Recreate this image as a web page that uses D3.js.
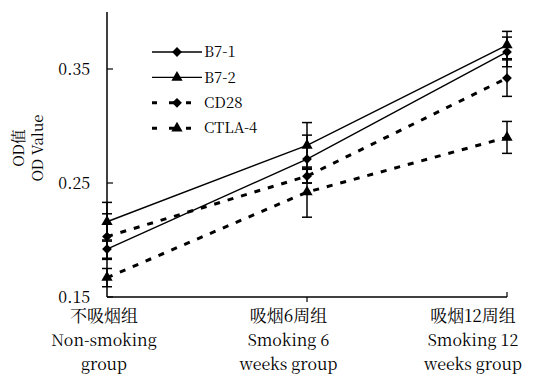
<!DOCTYPE html>
<html>
<head>
<meta charset="utf-8">
<script src="https://cdn.jsdelivr.net/npm/d3@7"></script>
<style>
  body { margin: 0; background: #fff; }
</style>
</head>
<body>
<div id="chart"></div>
<script>
// data
const groups = ["non", "w6", "w12"];
const groupLabels = [
    ["不吸烟组", "Non-smoking", "group"],
    ["吸烟6周组", "Smoking 6", "weeks group"],
    ["吸烟12周组", "Smoking 12", "weeks group"]
];
const seriesNames = ["B7-1", "B7-2", "CD28", "CTLA-4"];
const b71 = [0.192, 0.271, 0.365];
const b72 = [0.216, 0.283, 0.371];
const cd28 = [0.203, 0.256, 0.342];
const ctla4 = [0.167, 0.242, 0.290];
const b71Err = [0.008, 0.021, 0.013];
const b72Err = [0.017, 0.020, 0.012];
const cd28Err = [0.020, 0.006, 0.016];
const ctla4Err = [0.008, 0.022, 0.014];
const yTicks = [0.15, 0.25, 0.35];

const series = [
    {name: seriesNames[0], values: b71, err: b71Err, dashed: false, marker: "diamond"},
    {name: seriesNames[1], values: b72, err: b72Err, dashed: false, marker: "triangle"},
    {name: seriesNames[2], values: cd28, err: cd28Err, dashed: true, marker: "diamond"},
    {name: seriesNames[3], values: ctla4, err: ctla4Err, dashed: true, marker: "triangle"}
];

const width = 539, height = 377;
const margin = {top: 12, right: 31, bottom: 80, left: 107};
const innerW = width - margin.left - margin.right;
const innerH = height - margin.top - margin.bottom;
const fontFam = '"Noto Serif CJK SC", serif';

const svg = d3.select("#chart").append("svg")
    .attr("width", width)
    .attr("height", height);

const g = svg.append("g")
    .attr("transform", "translate(" + margin.left + "," + margin.top + ")");

const x = d3.scalePoint().domain(groups).range([0, innerW - 1]);
const y = d3.scaleLinear().domain([0.15, 0.40]).range([innerH, 0]);

// label positions are shifted left of the category ticks in the original
const xLabel = d3.scalePoint().domain(groups).range([-3, 366]);

// diamond = square turned 45deg, closer to the original's marker than symbolDiamond
const symbols = {
    diamond: d3.symbol().type(d3.symbolSquare).size(48),
    triangle: d3.symbol().type(d3.symbolTriangle).size(55)
};
const rot = {diamond: " rotate(45)", triangle: ""};

// axes
g.append("line")
    .attr("x1", 0).attr("x2", 0)
    .attr("y1", 0).attr("y2", innerH)
    .attr("stroke", "#000").attr("stroke-width", 1.5);
g.append("line")
    .attr("x1", 0).attr("x2", x("w12"))
    .attr("y1", innerH).attr("y2", innerH)
    .attr("stroke", "#000").attr("stroke-width", 1.5);

g.selectAll(".ytick")
    .data(yTicks)
    .enter().append("line")
    .attr("class", "ytick")
    .attr("x1", 0).attr("x2", 6)
    .attr("y1", d => y(d)).attr("y2", d => y(d))
    .attr("stroke", "#000").attr("stroke-width", 1.2);

g.selectAll(".ylab")
    .data(yTicks)
    .enter().append("text")
    .attr("class", "ylab")
    .attr("x", -17)
    .attr("y", d => y(d))
    .attr("dy", "0.36em")
    .attr("text-anchor", "end")
    .style("font-family", fontFam)
    .style("font-size", "16px")
    .text(d => d.toFixed(2));

g.append("line")
    .attr("x1", x("w6")).attr("x2", x("w6"))
    .attr("y1", innerH).attr("y2", innerH + 5)
    .attr("stroke", "#000").attr("stroke-width", 1.2);
g.append("line")
    .attr("x1", x("w12")).attr("x2", x("w12"))
    .attr("y1", innerH).attr("y2", innerH - 5)
    .attr("stroke", "#000").attr("stroke-width", 1.2);

// category labels
groups.forEach((grp, i) => {
    groupLabels[i].forEach((line, j) => {
        g.append("text")
            .attr("x", xLabel(grp))
            .attr("y", innerH + 19 + j * 24)
            .attr("dy", "0.35em")
            .attr("text-anchor", "middle")
            .style("font-family", fontFam)
            .style("font-size", j == 0 ? "17px" : "16px")
            .text(line);
    });
});

// y axis title
const yTitle = svg.append("text")
    .attr("transform", "translate(19,148) rotate(-90)")
    .attr("text-anchor", "middle")
    .style("font-family", fontFam)
    .style("font-size", "15px");
yTitle.append("tspan").attr("x", 0).attr("dy", "0.35em").text("OD值");
yTitle.append("tspan").attr("x", 0).attr("dy", "1.25em").text("OD Value");

// error bars
series.forEach(s => {
    groups.forEach((grp, i) => {
        let cx = x(grp);
        let lo = y(s.values[i] - s.err[i]);
        let hi = y(s.values[i] + s.err[i]);
        g.append("line")
            .attr("x1", cx).attr("x2", cx)
            .attr("y1", lo).attr("y2", hi)
            .attr("stroke", "#000").attr("stroke-width", 1.5);
        [lo, hi].forEach(cy => {
            g.append("line")
                .attr("x1", cx - 5).attr("x2", cx + 5)
                .attr("y1", cy).attr("y2", cy)
                .attr("stroke", "#000").attr("stroke-width", 1.5);
        });
    });
});

// lines
const line = d3.line()
    .x((d, i) => x(groups[i]))
    .y(d => y(d));

series.forEach(s => {
    g.append("path")
        .attr("d", line(s.values))
        .attr("fill", "none")
        .attr("stroke", "#000")
        .attr("stroke-width", s.dashed ? 3 : 1.4)
        .attr("stroke-dasharray", s.dashed ? "6,8" : null);

    g.selectAll(null)
        .data(s.values)
        .enter().append("path")
        .attr("d", symbols[s.marker])
        .attr("transform", (d, i) => "translate(" + x(groups[i]) + "," + y(d) + ")" + rot[s.marker])
        .attr("fill", "#000");
});

// legend
const legend = svg.append("g");
series.forEach((s, i) => {
    let ly = 52 + i * 25.4;
    legend.append("line")
        .attr("x1", 152).attr("x2", 202)
        .attr("y1", ly).attr("y2", ly)
        .attr("stroke", "#000")
        .attr("stroke-width", s.dashed ? 3 : 1.4)
        .attr("stroke-dasharray", s.dashed ? "5,12" : null);
    legend.append("path")
        .attr("d", symbols[s.marker])
        .attr("transform", "translate(177," + ly + ")" + rot[s.marker])
        .attr("fill", "#000");
    legend.append("text")
        .attr("x", 204)
        .attr("y", ly)
        .attr("dy", "0.35em")
        .style("font-family", fontFam)
        .style("font-size", "15px")
        .text(s.name);
});
</script>
</body>
</html>
